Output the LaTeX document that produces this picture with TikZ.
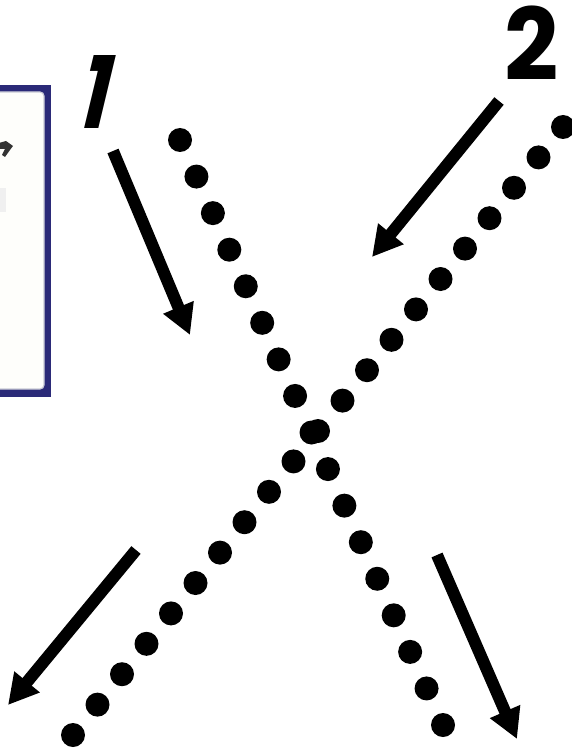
\documentclass[tikz,border=0pt]{standalone}
\usepackage{fontspec}
\newfontfamily\numfont{Poppins}
\usetikzlibrary{arrows.meta}
\definecolor{navy}{HTML}{2B2A78}
\definecolor{boxedge}{HTML}{C9CAD6}
\definecolor{boxfill}{HTML}{FEFEFB}
\tikzset{
  bigarrow/.style={line width=12pt,-{Triangle[length=30pt,width=31pt]}},
  dotmark/.style={fill=black},
  numlabel/.style={inner sep=0pt,font=\numfont\bfseries\fontsize{100}{100}\selectfont}
}
\begin{document}
\begin{tikzpicture}[x=1pt,y=-1pt]
\useasboundingbox (0,0) rectangle (572,754);
\fill[white] (0,0) rectangle (572,754);
% cropped window fragment on the left
\fill[navy] (-5,85) rectangle (51,397);
\draw[boxedge,fill=boxfill,line width=1.2pt,rounded corners=4pt] (-8,92) rectangle (44,389);
\fill[black!80] (-1,143) -- (6,141) -- (13,146) -- (10,150) -- (5,157) -- (2,155) -- (5,149) -- (-1,149) -- cycle;
\fill[black!6] (-1,188) rectangle (6,212);
% dotted lines
\foreach \i in {0,...,16}{
  \fill[dotmark] ({180+\i*263/16},{140+\i*585/16}) circle (12);
}
\foreach \i in {0,...,20}{
  \fill[dotmark] ({563-\i*490/20},{127+\i*608/20}) circle (12);
}
% arrows
\coordinate (a1s) at (113,151); \coordinate (a1e) at (190,335);
\coordinate (a2s) at (499,101); \coordinate (a2e) at (372,257);
\coordinate (a3s) at (136,550); \coordinate (a3e) at (8,705);
\coordinate (a4s) at (437,555); \coordinate (a4e) at (517,739);
\draw[bigarrow] (a1s) -- (a1e);
\draw[bigarrow] (a2s) -- (a2e);
\draw[bigarrow] (a3s) -- (a3e);
\draw[bigarrow] (a4s) -- (a4e);
% labels
\node[numlabel,xscale=0.8,xslant=0.3] (one) at (98,92) {1};
\node[numlabel,xscale=0.95] (two) at (532,43) {2};
\end{tikzpicture}
\end{document}
